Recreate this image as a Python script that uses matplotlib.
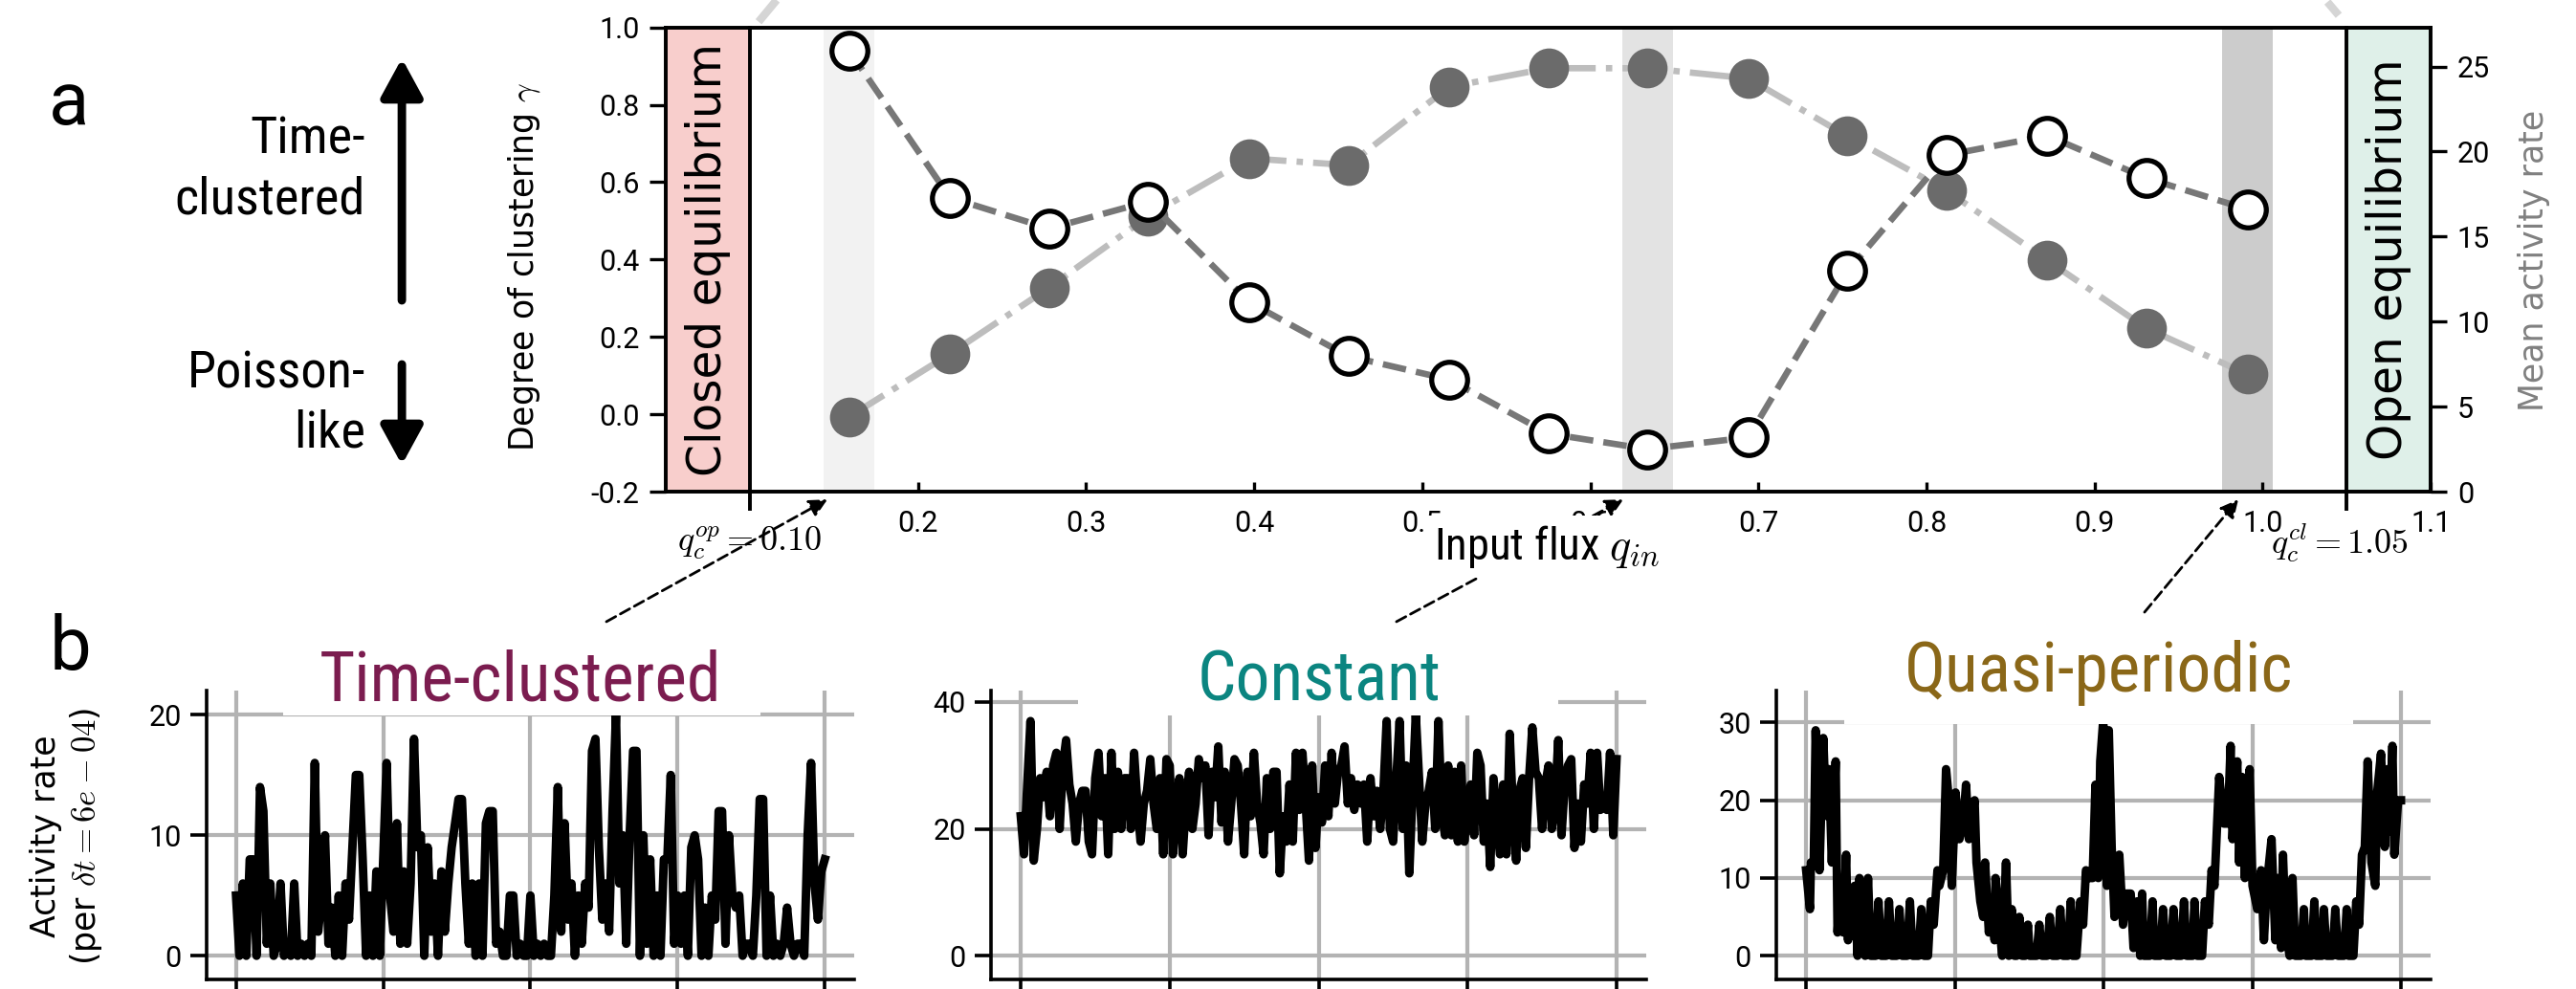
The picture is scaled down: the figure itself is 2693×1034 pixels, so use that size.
import numpy as np
import matplotlib.pyplot as plt
import matplotlib.transforms as mtransforms
from matplotlib import font_manager
from matplotlib.patches import Rectangle, FancyArrowPatch
from matplotlib.lines import Line2D

plt.rcParams['font.family'] = ['Roboto', 'DejaVu Sans']
plt.rcParams['mathtext.fontset'] = 'cm'
plt.rcParams['axes.unicode_minus'] = False

# condensed face for the big labels if there is one
installed = {f.name for f in font_manager.fontManager.ttflist}
if 'Roboto Condensed' in installed:
    cond, cscale = 'Roboto Condensed', 1.12
else:
    cond, cscale = 'Roboto', 1.0

# ---- panel a: sweep over the input flux ----
q_in = [0.159, 0.219, 0.278, 0.337, 0.397, 0.456, 0.516, 0.575,
        0.634, 0.694, 0.753, 0.812, 0.872, 0.931, 0.991]
gamma = [0.94, 0.56, 0.48, 0.55, 0.29, 0.15, 0.09, -0.05,
         -0.09, -0.06, 0.37, 0.67, 0.72, 0.61, 0.53]
mean_rate = [4.4, 8.1, 12.0, 16.2, 19.6, 19.2, 23.8, 24.9,
             24.9, 24.3, 20.9, 17.7, 13.6, 9.6, 6.9]
q_op = 0.10
q_cl = 1.05
highlight_q = [0.159, 0.634, 0.991]
highlight_col = ['#f2f2f2', '#e3e3e3', '#cccccc']

# ---- panel b: activity time series ----
clustered = [5, 0, 6, 0, 8, 8, 0, 14, 12, 1, 6, 0, 1, 6, 0, 1, 0, 6, 0, 1,
             0, 1, 0, 16, 2, 5, 10, 1, 4, 0, 5, 0, 6, 3, 9, 15, 15, 8, 0, 5,
             0, 7, 0, 8, 16, 5, 2, 11, 1, 7, 1, 6, 18, 9, 10, 0, 9, 2, 6, 0,
             7, 2, 6, 9, 11, 13, 13, 6, 1, 6, 0, 6, 0, 11, 12, 12, 1, 2, 0, 0,
             5, 5, 0, 1, 0,
             0, 5, 0, 1, 0, 1, 0, 0, 5, 14, 2, 11, 3, 6, 0, 5, 1, 6, 4, 17,
             18, 9, 3, 6, 2, 12, 20, 6, 10, 1, 10, 17, 17, 0, 10, 1, 8, 0, 5, 0,
             8, 8, 15, 1, 5, 1, 5, 0, 9, 10, 8, 0, 4, 0, 5, 3, 12, 12, 1, 10,
             5, 4, 5, 0, 1, 1, 0, 5, 13, 13, 0, 5, 0, 1, 0, 1, 4, 1, 0, 1,
             1, 0, 10, 16, 6, 3, 7, 8]

constant = [22, 16, 27, 37, 15, 20, 28, 25, 29, 22, 30, 32, 20, 30, 34, 27, 24, 18, 24, 26,
            26, 18, 16, 28, 32, 22, 28, 16, 32, 20, 29, 20, 28, 28, 20, 32, 24, 18, 24, 26,
            31, 24, 20, 28, 16, 31, 30, 16, 24, 28, 16, 24, 29, 20, 24, 31, 28, 30, 19, 29,
            25, 33, 21, 29, 18, 24, 31, 30, 24, 16, 29, 22, 32, 24, 21, 16, 28, 20, 29, 29,
            13, 22, 18, 27, 18, 32, 23, 32, 24, 15, 30, 17, 25,
            21, 30, 22, 32, 24, 29, 30, 33, 24, 28, 23, 27, 24, 27, 18, 28, 22, 26, 20, 26,
            37, 20, 18, 28, 37, 20, 30, 13, 26, 38, 28, 18, 24, 26, 29, 20, 37, 23, 19, 30,
            19, 29, 18, 30, 18, 24, 27, 19, 32, 30, 18, 24, 14, 28, 22, 16, 27, 16, 35, 23,
            15, 26, 28, 17, 28, 36, 29, 28, 20, 27, 30, 20, 24, 34, 19, 27, 30, 31, 17, 24,
            18, 27, 24, 32, 20, 32, 23, 24, 23, 32, 19, 31]

periodic_t = [0, 4, 5, 8, 10, 14, 18, 21, 24, 27, 31, 33, 36, 39, 42, 44, 48, 51, 54, 56,
              59, 62, 65, 68, 73, 76, 79, 84, 87, 90, 95, 98, 101, 106, 109, 112, 118, 121, 124, 128,
              131, 134, 138, 140, 144, 147, 150, 153, 157, 161, 165, 168, 171, 177, 179, 183, 186, 188, 192, 195,
              198, 199, 203, 206, 210, 213, 216, 219, 221, 224, 227, 230, 233, 235, 242, 245, 248, 253, 256, 259,
              264, 267, 270, 275, 278, 280, 284, 288, 291, 294, 298, 301, 304, 307, 309, 312,
              313, 316, 318, 321, 324, 329, 333, 336, 341, 344, 348, 351, 353, 355, 361, 364, 366, 372, 375, 378,
              383, 386, 389, 394, 397, 400, 406, 408, 411, 416, 419, 423, 426, 429, 434, 439, 443, 446, 448, 453,
              455, 458, 461, 466, 469, 474, 478, 481, 484, 489, 493, 496, 499, 501, 504, 508, 511, 514, 520, 523,
              525, 531, 534, 536, 542, 544, 547, 553, 556, 559, 565, 568, 570, 575, 578, 581, 584, 587, 590, 594,
              598, 600, 604, 608, 611, 613, 616, 618, 622, 625]
periodic_v = [11, 6, 12, 12, 29, 11, 28, 18, 24, 12, 25, 3, 9, 3, 13, 2, 7, 9, 0, 10,
              6, 0, 10, 0, 0, 7, 0, 0, 7, 0, 0, 6, 0, 0, 7, 0, 0, 6, 0, 0,
              7, 4, 11, 9, 11, 24, 20, 9, 21, 15, 17, 22, 15, 20, 12, 7, 5, 12, 3, 7,
              2, 10, 4, 0, 12, 0, 6, 0, 0, 5, 0, 0, 4, 0, 0, 4, 0, 0, 5, 0,
              0, 6, 0, 0, 7, 0, 0, 7, 4, 11, 10, 10, 22, 10, 25, 30,
              29, 9, 29, 14, 5, 13, 4, 8, 8, 1, 7, 0, 8, 0, 0, 7, 0, 0, 6, 0,
              0, 6, 0, 0, 7, 0, 0, 7, 0, 0, 7, 4, 11, 9, 23, 17, 17, 27, 15, 25,
              12, 23, 10, 24, 9, 6, 11, 2, 9, 15, 2, 10, 1, 13, 3, 0, 10, 0, 0, 6,
              0, 0, 7, 0, 0, 6, 0, 0, 6, 0, 0, 6, 0, 0, 7, 4, 13, 14, 25, 12,
              9, 21, 26, 14, 24, 16, 27, 13, 20, 20]

titles = ['Time-clustered', 'Constant', 'Quasi-periodic']
title_colors = ['#7b1c4f', '#0b8580', '#8a6718']

fig = plt.figure(figsize=(13.465, 5.17), dpi=200)

# ================= panel a =================
ax = fig.add_axes([0.2585, 0.5029, 0.6851, 0.4694])
ax2 = ax.twinx()
ax.set_zorder(ax2.get_zorder() + 1)
ax.patch.set_visible(False)

ax2.axvspan(0.05, q_op, color='#f8cecc', lw=0, zorder=0)
ax2.axvspan(q_cl, 1.1, color='#dff0e9', lw=0, zorder=0)
for q, c in zip(highlight_q, highlight_col):
    ax2.axvspan(q - 0.015, q + 0.015, color=c, lw=0, zorder=0)

ax2.plot(q_in, mean_rate, linestyle='-.', color='#bdbdbd', lw=2.4,
         marker='o', ms=14, mfc='#6b6b6b', mec='#6b6b6b', zorder=2)
ax.plot(q_in, gamma, linestyle='--', color='#777777', lw=2.4,
        marker='o', ms=13.5, mfc='white', mec='black', mew=1.9, zorder=3)

for q in [q_op, q_cl]:
    ax.axvline(q, ymin=-0.037, ymax=1, color='black', lw=1.4, clip_on=False, zorder=4)

ax.text((0.05 + q_op) / 2, 0.40, 'Closed equilibrium', rotation=90, ha='center', va='center',
        fontsize=17.5, family='DejaVu Sans')
ax.text((q_cl + 1.1) / 2, 0.40, 'Open equilibrium', rotation=90, ha='center', va='center',
        fontsize=17.5, family='DejaVu Sans')

ax.set_xlim(0.05, 1.1)
ax.set_ylim(-0.2, 1.0)
ax2.set_ylim(0, 27.3)
xt = [0.2, 0.3, 0.4, 0.5, 0.6, 0.7, 0.8, 0.9, 1.0, 1.1]
ax.set_xticks(xt)
ax.set_xticklabels(['%.1f' % v for v in xt])
ax.set_yticks(np.arange(-0.2, 1.01, 0.2))
ax.set_yticklabels(['%.1f' % v for v in np.arange(-0.2, 1.01, 0.2)])
ax2.set_yticks([0, 5, 10, 15, 20, 25])
ax.tick_params(axis='x', direction='in', length=3.5, width=1.2, pad=7, labelsize=11)
ax.tick_params(axis='y', direction='out', length=6, width=1.2, pad=4, labelsize=11)
ax2.tick_params(axis='y', direction='out', length=6, width=1.2, pad=4, labelsize=11)
for a in (ax, ax2):
    for s in a.spines.values():
        s.set_linewidth(1.3)

trans = mtransforms.blended_transform_factory(ax.transData, ax.transAxes)
ax.text(q_op, -0.128, r'$q_c^{op}=0.10$', transform=trans, ha='center', va='baseline', fontsize=13)
ax.text(q_cl - 0.004, -0.134, r'$q_c^{cl}=1.05$', transform=trans, ha='center', va='baseline',
        fontsize=13)

fig.text(0.2035, 0.7307, r'Degree of clustering $\gamma$', rotation=90, ha='center', va='center',
         fontsize=12.5, family='DejaVu Sans')
fig.text(0.9837, 0.7364, 'Mean activity rate', rotation=90, ha='center', va='center',
         fontsize=12.5, family='DejaVu Sans', color='#808080')
fig.text(0.6004, 0.4342, r'Input flux $q_{in}$', ha='center', va='baseline',
         fontsize=15 * cscale, family=cond, zorder=5,
         bbox=dict(facecolor='white', edgecolor='none', pad=3))

# left hand side guide
fig.text(0.019, 0.874, 'a', fontsize=28, ha='left', va='baseline')
for txt, yb in [('Time-', 0.8443), ('clustered', 0.7843), ('Poisson-', 0.6083), ('like', 0.5474)]:
    fig.text(0.1418, yb, txt, fontsize=17.5 * cscale, family=cond, ha='right', va='baseline')
fig.add_artist(FancyArrowPatch((0.156, 0.6963), (0.156, 0.941), transform=fig.transFigure,
                               arrowstyle='-|>,head_length=0.55,head_width=0.3',
                               mutation_scale=22, lw=3.2, color='black', shrinkA=0, shrinkB=0))
fig.add_artist(FancyArrowPatch((0.156, 0.6315), (0.156, 0.530), transform=fig.transFigure,
                               arrowstyle='-|>,head_length=0.55,head_width=0.3',
                               mutation_scale=22, lw=3.2, color='black', shrinkA=0, shrinkB=0))

# faint lines leaving the top of the figure
fig.add_artist(Line2D([0.2945, 0.3015], [0.978, 1.0], transform=fig.transFigure,
                      color='#d5d5d5', lw=3, ls='--'))
fig.add_artist(Line2D([0.9035, 0.9079], [0.998, 0.9845], transform=fig.transFigure,
                      color='#d5d5d5', lw=3, ls='--'))

# ================= panel b =================
fig.text(0.019, 0.323, 'b', fontsize=28, ha='left', va='baseline')

series = [(np.arange(len(clustered)), clustered),
          (np.arange(len(constant)), constant),
          (np.array(periodic_t), periodic_v)]
lefts = [0.0802, 0.3847, 0.6896]
widths = [0.2514, 0.2544, 0.2540]
ylims = [(-2, 22), (-3.8, 41.8), (-3.1, 34.1)]
yticks = [[0, 10, 20], [0, 20, 40], [0, 10, 20, 30]]
boxes = [(0.118, 0.914, 0.737), (0.133, 0.914, 0.733), (0.104, 0.884, 0.778)]
title_pos = [(0.484, 0.965), (0.501, 0.966), (0.493, 0.997)]

for i in range(3):
    axb = fig.add_axes([lefts[i], 0.0092, widths[i], 0.2925])
    t, v = series[i]
    axb.plot(t, v, color='black', lw=3.2, zorder=2, solid_joinstyle='round')
    axb.set_ylim(*ylims[i])
    axb.set_yticks(yticks[i])
    axb.set_xticks(np.linspace(t[0], t[-1], 5))
    axb.grid(True, color='#b3b3b3', lw=1.5)
    axb.set_axisbelow(True)
    for s in ['top', 'right']:
        axb.spines[s].set_visible(False)
    for s in ['left', 'bottom']:
        axb.spines[s].set_linewidth(1.3)
    axb.tick_params(axis='both', direction='out', length=6, width=1.3, labelsize=11)
    axb.tick_params(axis='x', labelbottom=False)
    bx, by, bw = boxes[i]
    axb.add_patch(Rectangle((bx, by), bw, 0.28, transform=axb.transAxes, facecolor='white',
                            edgecolor='none', clip_on=False, zorder=2.5))
    axb.text(title_pos[i][0], title_pos[i][1], titles[i], transform=axb.transAxes,
             ha='center', va='baseline', fontsize=23 * cscale, family=cond,
             color=title_colors[i], zorder=3)
    if i == 0:
        fig.text(0.026, 0.1547, 'Activity rate\n' + r'(per $\delta t = 6e-04$)', rotation=90,
                 ha='center', va='center', multialignment='center', fontsize=12.5,
                 family='DejaVu Sans', linespacing=1.2)

# dashed pointers from the example traces to the highlighted fluxes
for (x0, y0), (x1, y1) in [((0.2354, 0.3714), (0.3212, 0.4950)),
                           ((0.5421, 0.3714), (0.6302, 0.4950)),
                           ((0.8325, 0.3810), (0.8689, 0.4950))]:
    fig.add_artist(FancyArrowPatch((x0, y0), (x1, y1), transform=fig.transFigure,
                                   arrowstyle='-|>', mutation_scale=14, lw=1.0,
                                   linestyle=(0, (4, 2)), color='black', shrinkA=0, shrinkB=0,
                                   zorder=1))

fig.savefig('out.png', dpi=200)
